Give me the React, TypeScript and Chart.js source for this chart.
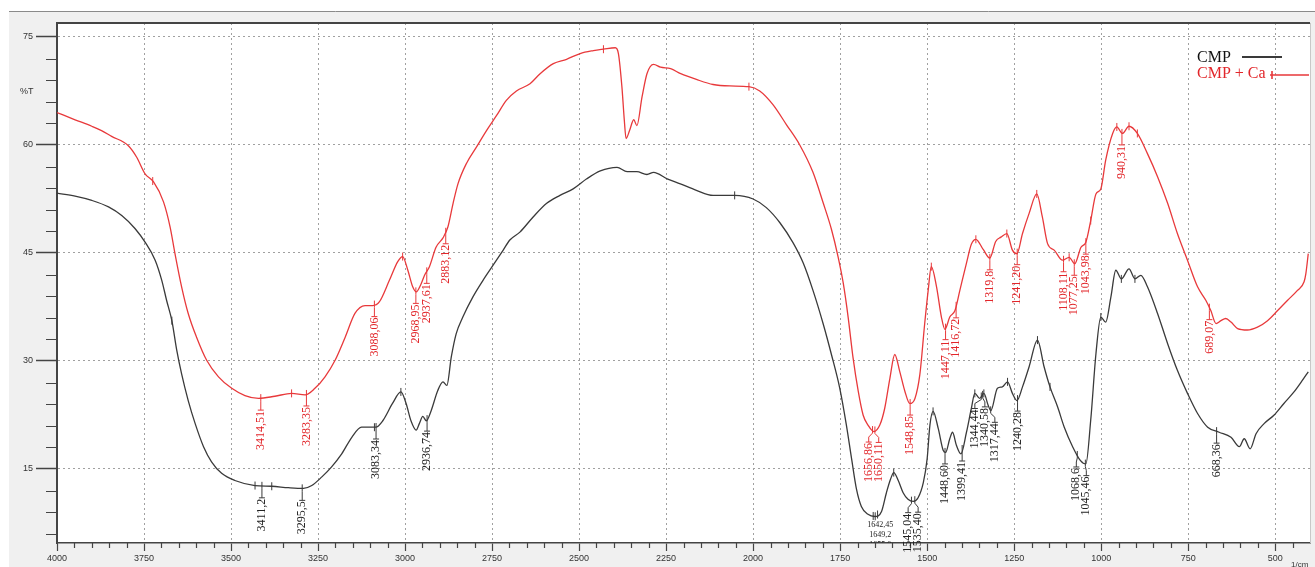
import React, { useEffect, useRef } from "react";
import { Chart, registerables } from "chart.js";
Chart.register(...registerables);

// ---------- DATA ----------
const cmpWn = [4000, 3948, 3900, 3852, 3814, 3776, 3747, 3718, 3699, 3685, 3670, 3656, 3642, 3623, 3603, 3579, 3556, 3527, 3489, 3431, 3383, 3335, 3292, 3268, 3239, 3211, 3182, 3153, 3125, 3108, 3084, 3064, 3036, 3012, 2997, 2983, 2968, 2959, 2949, 2939, 2925, 2906, 2891, 2880, 2867, 2853, 2834, 2805, 2776, 2747, 2718, 2699, 2670, 2632, 2593, 2555, 2517, 2478, 2439, 2391, 2362, 2334, 2305, 2286, 2247, 2209, 2163, 2115, 2053, 2000, 1962, 1923, 1885, 1856, 1828, 1799, 1775, 1751, 1732, 1717, 1703, 1689, 1670, 1650, 1631, 1617, 1605, 1596, 1583, 1569, 1555, 1540, 1526, 1511, 1500, 1492, 1483, 1468, 1454, 1447, 1435, 1427, 1416, 1403, 1387, 1373, 1363, 1349, 1337, 1325, 1317, 1298, 1284, 1269, 1255, 1242, 1226, 1207, 1183, 1164, 1147, 1125, 1106, 1082, 1060, 1044, 1030, 1015, 1001, 987, 972, 958, 942, 920, 903, 886, 867, 838, 809, 781, 752, 723, 694, 661, 627, 603, 589, 572, 555, 532, 503, 475, 446, 422, 405];
const cmpT = [53.3, 52.9, 52.3, 51.4, 50.2, 48.4, 46.5, 44.0, 41.2, 38.4, 35.6, 31.5, 28.2, 24.5, 21.3, 18.1, 16.0, 14.4, 13.4, 12.7, 12.6, 12.4, 12.3, 12.7, 13.9, 15.3, 17.1, 19.4, 20.8, 20.8, 20.8, 21.7, 24.1, 25.7, 24.1, 21.7, 20.4, 21.3, 22.3, 21.7, 23.1, 25.9, 27.1, 26.6, 30.6, 33.8, 36.1, 38.9, 41.2, 43.3, 45.4, 46.8, 47.9, 50.0, 51.9, 53.0, 53.9, 55.3, 56.4, 56.9, 56.3, 56.3, 55.9, 56.2, 55.3, 54.6, 53.7, 53.0, 53.0, 52.5, 51.3, 49.2, 46.4, 43.6, 39.8, 35.2, 30.9, 26.2, 21.1, 16.4, 12.2, 9.8, 8.7, 8.4, 9.1, 11.7, 13.6, 14.5, 13.4, 11.7, 10.8, 10.5, 11.0, 13.1, 16.4, 21.1, 23.0, 20.6, 17.6, 17.3, 19.2, 20.1, 18.3, 17.1, 20.1, 23.4, 25.5, 24.8, 25.5, 23.9, 23.1, 26.2, 26.4, 27.1, 25.5, 24.5, 26.4, 29.2, 32.9, 29.2, 26.4, 23.6, 20.8, 18.1, 16.2, 15.7, 21.8, 31.0, 36.1, 35.4, 38.9, 42.6, 41.4, 42.8, 41.4, 41.9, 40.3, 36.6, 32.4, 28.7, 25.5, 22.7, 20.8, 20.1, 19.4, 18.1, 19.2, 17.8, 19.9, 21.3, 22.5, 24.1, 25.7, 27.3, 28.5];

const caWn = [4000, 3948, 3900, 3872, 3843, 3795, 3771, 3747, 3723, 3694, 3675, 3661, 3642, 3623, 3599, 3570, 3536, 3498, 3460, 3421, 3374, 3326, 3287, 3259, 3230, 3201, 3172, 3144, 3115, 3093, 3074, 3045, 3021, 3007, 2992, 2978, 2968, 2954, 2944, 2930, 2911, 2891, 2877, 2862, 2848, 2824, 2795, 2766, 2737, 2709, 2680, 2641, 2612, 2574, 2536, 2497, 2459, 2430, 2396, 2387, 2377, 2370, 2365, 2355, 2343, 2334, 2319, 2305, 2286, 2266, 2237, 2208, 2163, 2115, 2067, 2012, 1981, 1943, 1904, 1866, 1828, 1799, 1775, 1756, 1741, 1727, 1713, 1698, 1684, 1670, 1653, 1636, 1622, 1607, 1593, 1579, 1564, 1550, 1535, 1521, 1507, 1497, 1488, 1473, 1459, 1449, 1435, 1420, 1406, 1387, 1373, 1360, 1339, 1320, 1303, 1288, 1271, 1255, 1242, 1226, 1207, 1185, 1169, 1154, 1135, 1111, 1092, 1076, 1058, 1044, 1030, 1015, 1001, 987, 967, 955, 939, 920, 896, 867, 838, 809, 781, 752, 723, 699, 685, 670, 656, 642, 627, 608, 580, 551, 522, 493, 465, 436, 417, 412, 405];
const caT = [64.5, 63.5, 62.6, 62.0, 61.2, 59.9, 58.3, 56.0, 54.9, 52.1, 48.6, 44.9, 40.3, 36.6, 33.3, 30.1, 27.8, 26.2, 25.2, 24.8, 25.1, 25.5, 25.3, 26.2, 27.8, 30.1, 33.3, 36.6, 37.7, 37.7, 38.2, 41.2, 43.8, 44.5, 42.6, 40.3, 39.6, 40.7, 41.9, 43.1, 45.8, 47.1, 48.6, 51.9, 54.6, 57.4, 59.7, 62.0, 64.1, 66.2, 67.5, 68.5, 69.9, 71.3, 71.9, 72.7, 73.1, 73.3, 73.5, 72.7, 68.1, 63.4, 60.9, 62.0, 63.5, 62.7, 66.7, 69.9, 71.2, 70.8, 70.6, 69.9, 69.1, 68.4, 68.2, 68.1, 67.5, 65.6, 62.8, 60.0, 56.2, 52.0, 48.3, 44.5, 40.8, 36.1, 30.5, 25.8, 22.5, 21.1, 20.2, 21.1, 23.4, 27.6, 30.9, 28.6, 25.8, 24.1, 24.8, 28.1, 35.2, 39.8, 43.1, 40.3, 36.1, 34.4, 36.1, 37.0, 39.8, 43.6, 46.2, 46.9, 45.5, 44.3, 46.6, 47.2, 47.7, 45.4, 44.9, 47.7, 50.5, 53.2, 50.0, 46.3, 45.4, 44.0, 44.4, 43.5, 45.8, 46.5, 49.5, 53.2, 53.9, 57.9, 61.6, 62.5, 61.6, 62.6, 61.6, 58.8, 55.6, 51.9, 47.7, 44.0, 40.3, 38.4, 37.0, 35.2, 35.6, 35.9, 35.4, 34.5, 34.3, 34.7, 35.6, 37.0, 38.4, 39.8, 41.0, 42.1, 44.9];

const seriesNames = ["CMP", "CMP + Ca"];
const xTickValues = [4000, 3750, 3500, 3250, 3000, 2750, 2500, 2250, 2000, 1750, 1500, 1250, 1000, 750, 500];
const yTickValues = [15, 30, 45, 60, 75];
const yAxisTitle = "%T";
const xAxisUnit = "1/cm";

const cmpPeakLabels = ["3411,2", "3295,5", "3083,34", "2936,74", "1545,04", "1535,40", "1448,60", "1399,41", "1344,44", "1340,58", "1317,44", "1240,28", "1068,6", "1045,46", "668,36"];
const cmpStackLabels = ["1642,45", "1649,2", "1655,0"];
const caPeakLabels = ["3414,51", "3283,35", "3088,06", "2968,95", "2937,61", "2883,12", "1656,86", "1650,11", "1548,85", "1447,11", "1416,72", "1319,8", "1241,20", "1108,11", "1077,25", "1043,98", "940,31", "689,07"];
const cmpMarks = [3670, 3431, 3383, 3088, 3012, 2053, 1596, 1483, 1363, 1337, 1269, 1183, 1147, 1001, 942, 903];
const caMarks = [3725, 3326, 3007, 2430, 2012, 1488, 1360, 1271, 1185, 1092, 1030, 955, 920, 896];

// ---------- STYLE ----------
const BLACK = "#3a3a3a";
const RED = "#e8393b";
const BLACK_TXT = "#222222";
const RED_TXT = "#e2262a";
const SERIF = '"Liberation Serif", "Times New Roman", serif';
const SANS = '"Liberation Sans", Arial, sans-serif';

function interp(wns: number[], vals: number[], w: number): number {
  for (let i = 0; i < wns.length - 1; i++) {
    const a = wns[i], b = wns[i + 1];
    if ((w <= a && w >= b) || (w >= a && w <= b)) {
      const t = (w - a) / (b - a || 1);
      return vals[i] + t * (vals[i + 1] - vals[i]);
    }
  }
  return vals[vals.length - 1];
}

type Item = { t: string; x0: number; y0: number; x: number };

function spread(items: Item[], gap: number) {
  const sorted = [...items].sort((a, b) => a.x0 - b.x0);
  type Cl = { items: Item[]; sum: number };
  const cls: Cl[] = sorted.map((it) => ({ items: [it], sum: it.x0 }));
  const start = (c: Cl) => c.sum / c.items.length - ((c.items.length - 1) * gap) / 2;
  const end = (c: Cl) => start(c) + (c.items.length - 1) * gap;
  let changed = true;
  while (changed) {
    changed = false;
    for (let i = 0; i < cls.length - 1; i++) {
      if (start(cls[i + 1]) - end(cls[i]) < gap) {
        cls[i] = { items: cls[i].items.concat(cls[i + 1].items), sum: cls[i].sum + cls[i + 1].sum };
        cls.splice(i + 1, 1);
        changed = true;
        break;
      }
    }
  }
  cls.forEach((c) => {
    const s = start(c);
    c.items.forEach((it, k) => (it.x = s + k * gap));
  });
}

function drawPeakLabels(ctx: CanvasRenderingContext2D, chart: any, labels: string[], wns: number[], vals: number[], lineColor: string, textColor: string) {
  const xs = chart.scales.x, ys = chart.scales.y;
  const items: Item[] = labels.map((t) => {
    const w = parseFloat(t.replace(",", "."));
    const v = interp(wns, vals, w);
    return { t, x0: xs.getPixelForValue(w), y0: ys.getPixelForValue(v), x: 0 };
  });
  spread(items, 10);
  ctx.save();
  ctx.lineWidth = 1;
  ctx.font = `12px ${SERIF}`;
  items.forEach((it) => {
    const top = it.y0 + 13;
    ctx.strokeStyle = lineColor;
    ctx.beginPath();
    ctx.moveTo(it.x0, it.y0 - 4);
    ctx.lineTo(it.x0, it.y0 + 3);
    if (Math.abs(it.x - it.x0) > 0.5) ctx.lineTo(it.x, it.y0 + 7);
    ctx.lineTo(it.x, top - 1);
    ctx.moveTo(it.x - 3, top - 1);
    ctx.lineTo(it.x + 3, top - 1);
    ctx.stroke();
    ctx.fillStyle = textColor;
    ctx.save();
    ctx.translate(it.x, top);
    ctx.rotate(-Math.PI / 2);
    ctx.textAlign = "right";
    ctx.textBaseline = "middle";
    ctx.fillText(it.t, 0, 0);
    ctx.restore();
  });
  ctx.restore();
}

function drawMarks(ctx: CanvasRenderingContext2D, chart: any, marks: number[], wns: number[], vals: number[], color: string) {
  const xs = chart.scales.x, ys = chart.scales.y;
  ctx.save();
  ctx.strokeStyle = color;
  ctx.lineWidth = 1;
  marks.forEach((w) => {
    const x = xs.getPixelForValue(w);
    const y = ys.getPixelForValue(interp(wns, vals, w));
    ctx.beginPath();
    ctx.moveTo(x, y - 4);
    ctx.lineTo(x, y + 4);
    ctx.stroke();
  });
  ctx.restore();
}

const bgPlugin = {
  id: "bgPlugin",
  beforeDraw(chart: any) {
    const { ctx, width, height, chartArea: a } = chart;
    ctx.save();
    ctx.fillStyle = "#ffffff";
    ctx.fillRect(0, 0, width, height);
    ctx.fillStyle = "#f0f0f0";
    ctx.fillRect(9, 11, width - 9, height - 11);
    ctx.strokeStyle = "#8a8a8a";
    ctx.lineWidth = 1;
    ctx.beginPath();
    ctx.moveTo(9, 11.5);
    ctx.lineTo(width, 11.5);
    ctx.stroke();
    ctx.fillStyle = "#ffffff";
    ctx.fillRect(a.left, a.top, a.right - a.left, a.bottom - a.top);
    ctx.restore();
  },
};

const decorPlugin = {
  id: "decorPlugin",
  afterDraw(chart: any) {
    const { ctx, chartArea: a } = chart;
    const xs = chart.scales.x, ys = chart.scales.y;
    ctx.save();
    // minor ticks
    ctx.strokeStyle = "#444";
    ctx.lineWidth = 1.2;
    ctx.beginPath();
    for (let w = 450; w <= 4000; w += 50) {
      if (w % 250 === 0) continue;
      const x = Math.round(xs.getPixelForValue(w)) + 0.5;
      ctx.moveTo(x, a.bottom);
      ctx.lineTo(x, a.bottom + 5);
    }
    for (let v = 6; v <= 75; v += 3) {
      if (v % 15 === 0) continue;
      const y = Math.round(ys.getPixelForValue(v)) + 0.5;
      ctx.moveTo(a.left - 11, y);
      ctx.lineTo(a.left, y);
    }
    ctx.stroke();
    // frame
    ctx.strokeStyle = "#444";
    ctx.lineWidth = 2;
    ctx.beginPath();
    ctx.moveTo(a.left - 1, a.top);
    ctx.lineTo(a.right, a.top);
    ctx.stroke();
    ctx.strokeStyle = "#c8c8c8";
    ctx.lineWidth = 1;
    ctx.beginPath();
    ctx.moveTo(a.right + 0.5, a.top);
    ctx.lineTo(a.right + 0.5, a.bottom);
    ctx.stroke();
    // axis titles
    ctx.fillStyle = "#333";
    ctx.font = `9px ${SANS}`;
    ctx.textAlign = "left";
    ctx.textBaseline = "middle";
    ctx.fillText(yAxisTitle, 20, 92);
    ctx.font = `8px ${SANS}`;
    ctx.fillText(xAxisUnit, 1291, 565);
    ctx.restore();

    // marks and labels
    drawMarks(ctx, chart, caMarks, caWn, caT, RED);
    drawMarks(ctx, chart, cmpMarks, cmpWn, cmpT, BLACK);
    drawPeakLabels(ctx, chart, caPeakLabels, caWn, caT, RED, RED_TXT);
    drawPeakLabels(ctx, chart, cmpPeakLabels, cmpWn, cmpT, BLACK, BLACK_TXT);

    // stacked horizontal labels at the CMP minimum
    ctx.save();
    ctx.beginPath();
    ctx.rect(a.left, a.top, a.right - a.left, a.bottom - a.top);
    ctx.clip();
    const ws = cmpStackLabels.map((t) => parseFloat(t.replace(",", ".")));
    ctx.strokeStyle = BLACK;
    ctx.lineWidth = 1;
    let yMin = 0;
    ws.forEach((w) => {
      const x = xs.getPixelForValue(w);
      const y = ys.getPixelForValue(interp(cmpWn, cmpT, w));
      yMin = Math.max(yMin, y);
      ctx.beginPath();
      ctx.moveTo(x, y - 4);
      ctx.lineTo(x, y + 4);
      ctx.stroke();
    });
    const xc = xs.getPixelForValue(ws[1]) + 5;
    ctx.fillStyle = BLACK_TXT;
    ctx.font = `8px ${SERIF}`;
    ctx.textAlign = "center";
    ctx.textBaseline = "middle";
    cmpStackLabels.forEach((t, i) => ctx.fillText(t, xc, yMin + 9 + i * 10));
    ctx.restore();

    // legend
    const ds = chart.data.datasets;
    ctx.save();
    ctx.font = `16px ${SERIF}`;
    ctx.textAlign = "left";
    ctx.textBaseline = "middle";
    ctx.fillStyle = "#111";
    ctx.fillText(ds[0].label, 1197, 58);
    ctx.strokeStyle = ds[0].borderColor;
    ctx.lineWidth = 2;
    ctx.beginPath();
    ctx.moveTo(1242, 57);
    ctx.lineTo(1282, 57);
    ctx.stroke();
    ctx.fillStyle = RED_TXT;
    ctx.fillText(ds[1].label, 1197, 74);
    ctx.strokeStyle = ds[1].borderColor;
    ctx.lineWidth = 1.6;
    ctx.beginPath();
    ctx.moveTo(1270, 75);
    ctx.lineTo(1309, 75);
    ctx.moveTo(1272, 71);
    ctx.lineTo(1272, 79);
    ctx.stroke();
    ctx.restore();
  },
};

export default function App() {
  const ref = useRef<HTMLCanvasElement | null>(null);
  useEffect(() => {
    if (!ref.current) return;
    const chart = new Chart(ref.current, {
      type: "line",
      data: {
        datasets: [
          {
            label: seriesNames[0],
            data: cmpWn.map((x, i) => ({ x, y: cmpT[i] })),
            borderColor: BLACK,
            borderWidth: 1.3,
            pointRadius: 0,
            fill: false,
            cubicInterpolationMode: "monotone",
          },
          {
            label: seriesNames[1],
            data: caWn.map((x, i) => ({ x, y: caT[i] })),
            borderColor: RED,
            borderWidth: 1.3,
            pointRadius: 0,
            fill: false,
            cubicInterpolationMode: "monotone",
          },
        ],
      },
      options: {
        animation: false,
        responsive: false,
        events: [],
        layout: { padding: { top: 23, right: 5, left: 0, bottom: 0 } },
        plugins: { legend: { display: false }, tooltip: { enabled: false } },
        scales: {
          x: {
            type: "linear",
            reverse: true,
            min: 400,
            max: 4000,
            afterBuildTicks: (s: any) => {
              s.ticks = xTickValues.map((v) => ({ value: v }));
            },
            afterFit: (s: any) => {
              s.height = 24;
            },
            ticks: {
              autoSkip: false,
              maxRotation: 0,
              padding: 2,
              color: "#333",
              font: { size: 9, family: SANS },
              callback: (v: any) => String(v),
            },
            grid: { color: "#a0a0a0", lineWidth: 1, tickLength: 8, tickColor: "#444", tickWidth: 1.2 },
            border: { display: true, color: "#444", width: 1.5, dash: [2, 3] },
          },
          y: {
            type: "linear",
            min: 4.72,
            max: 76.94,
            afterBuildTicks: (s: any) => {
              s.ticks = yTickValues.map((v) => ({ value: v }));
            },
            afterFit: (s: any) => {
              s.width = 57;
            },
            ticks: {
              padding: 3,
              color: "#333",
              font: { size: 9, family: SANS },
              callback: (v: any) => String(v),
            },
            grid: { color: "#a0a0a0", lineWidth: 1, tickLength: 21, tickColor: "#444", tickWidth: 1.5 },
            border: { display: true, color: "#444", width: 2, dash: [2, 3] },
          },
        },
      },
      plugins: [bgPlugin, decorPlugin],
    } as any);
    return () => chart.destroy();
  }, []);
  return (
    <div style={{ position: "fixed", left: 0, top: 0, width: 1315, height: 567 }}>
      <canvas ref={ref} width={1315} height={567} style={{ display: "block", width: 1315, height: 567 }} />
    </div>
  );
}
